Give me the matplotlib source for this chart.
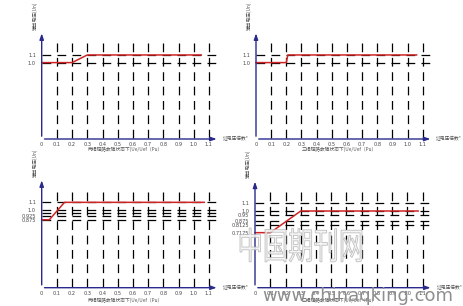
import matplotlib
matplotlib.use('Agg')
import matplotlib.pyplot as plt
from matplotlib.textpath import TextPath
from matplotlib.patches import PathPatch
from matplotlib.font_manager import FontProperties
from matplotlib.transforms import Affine2D, IdentityTransform

plt.rcParams['font.family'] = ['Noto Sans CJK SC', 'DejaVu Sans']

# x axis ticks shared by all four panels
x_ticks = [0, 0.1, 0.2, 0.3, 0.4, 0.5, 0.6, 0.7, 0.8, 0.9, 1.0, 1.1]
x_labels = ['0', '0.1', '0.2', '0.3', '0.4', '0.5', '0.6', '0.7', '0.8', '0.9', '1.0', '1.1']

# panel a (top left)
a_x = [0, 0.2, 0.3, 1.05]
a_y = [1.0, 1.0, 1.1, 1.1]
a_hlines = [1.1, 1.0]
a_yticks = [1.1, 1.0]
a_ylabels = ['1.1', '1.0']

# panel b (top right)
b_x = [0, 0.2, 0.21, 1.06]
b_y = [1.0, 1.0, 1.1, 1.1]
b_hlines = [1.1, 1.0]
b_yticks = [1.1, 1.0]
b_ylabels = ['1.1', '1.0']

# panel c (bottom left)
c_x = [0, 0.05, 0.15, 1.07]
c_y = [0.875, 0.875, 1.1, 1.1]
c_hlines = [1.1, 1.0, 0.9625, 0.925, 0.875]
c_yticks = [1.1, 1.0, 0.925, 0.875]
c_ylabels = ['1.1', '1.0', '0.925', '0.875']

# panel d (bottom right)
d_x = [0, 0.1, 0.3, 1.07]
d_y = [0.7175, 0.7175, 1.0, 1.0]
d_hlines = [1.1, 1.0, 0.95, 0.875, 0.8125]
d_yticks = [1.1, 1.0, 0.95, 0.875, 0.8125, 0.7175]
d_ylabels = ['1.1', '1.0', '0.95', '0.875', '0.8125', '0.7175']

ylab = '输出电压(Un)'
xlab = '过电压倍数*'
cap2 = '两相短路故障状态下(Ue/Uef（Pu）'
cap3 = '三相短路故障状态下(Ue/Uef（Pu）'

W, H = 463, 306
AXC = '#2a2a8c'
RED = '#d02424'


def panel(fig, ox, oy, sx, sy, xs, ys, hl, yt, yl, cap, cap_y):
	'''ox,oy: origin pixel (from top-left), sx,sy: pixels per unit'''
	x0, x1 = -0.02, 1.25
	y0, y1 = -0.02, 1.45
	left = (ox + x0 * sx) / W
	bottom = (H - oy + y0 * sy) / H
	ax = fig.add_axes([left, bottom, (x1 - x0) * sx / W, (y1 - y0) * sy / H])
	ax.set_xlim(x0, x1)
	ax.set_ylim(y0, y1)
	for s in ax.spines.values():
		s.set_visible(False)
	ax.patch.set_alpha(0)
	# dashed guide lines
	for xv in x_ticks[1:]:
		ax.plot([xv, xv], [0.01, 1.3], color='black', lw=0.9, dashes=(7, 4.5))
	for yv in hl:
		ax.plot([0, 1.15], [yv, yv], color='black', lw=0.9, dashes=(7, 5))
	ax.plot(xs, ys, color=RED, lw=1.1, zorder=5)
	# axes with arrows
	ax.annotate('', xy=(1.17, 0), xytext=(0, 0),
		arrowprops=dict(arrowstyle='-|>,head_length=0.35,head_width=0.12', color=AXC, lw=1.0), zorder=6)
	ax.annotate('', xy=(0, 1.42), xytext=(0, 0),
		arrowprops=dict(arrowstyle='-|>,head_length=0.35,head_width=0.12', color=AXC, lw=1.0), zorder=6)
	ax.set_xticks(x_ticks)
	ax.set_xticklabels(x_labels, fontsize=3.6, color='#444444', family='DejaVu Sans')
	ax.set_yticks(yt)
	ax.set_yticklabels(yl, fontsize=3.6, color='#444444', family='DejaVu Sans')
	ax.tick_params(axis='x', length=0, pad=1.2)
	ax.tick_params(axis='y', length=0, pad=2)
	ax.text(-0.045, 1.43, ylab, rotation=90, ha='center', va='bottom', fontsize=3.4, color='#555555', clip_on=False)
	ax.text(1.19, 0, xlab, ha='left', va='center', fontsize=3.4, color='#555555', clip_on=False)
	ax.text(0.55, cap_y, cap, ha='center', va='center', fontsize=3.4, color='#555555', clip_on=False)
	return ax


def watermark(fig, text, box):
	'''draw text stretched into a pixel box (x0, y0_top, x1, y1_top)'''
	tp = TextPath((0, 0), text, size=20, prop=FontProperties(family='Noto Sans CJK SC', weight='light'))
	ext = tp.get_extents()
	bx0, by0, bx1, by1 = box
	sx = (bx1 - bx0) / ext.width
	sy = (by1 - by0) / ext.height
	tr = Affine2D().translate(-ext.x0, -ext.y0).scale(sx, sy).translate(bx0, H - by1)
	patch = PathPatch(tr.transform_path(tp), facecolor='#f4f4f4', edgecolor='#b4b4b4', lw=0.6,
		transform=IdentityTransform(), alpha=0.85)
	fig.add_artist(patch)


def main():
	fig = plt.figure(figsize=(4.63, 3.06), dpi=100)
	fig.patch.set_facecolor('white')
	panel(fig, 41.7, 139, 152, 76.4, a_x, a_y, a_hlines, a_yticks, a_ylabels, cap2, -0.135)
	panel(fig, 256, 139, 151.5, 76.4, b_x, b_y, b_hlines, b_yticks, b_ylabels, cap3, -0.135)
	panel(fig, 41.7, 287.7, 152, 77.6, c_x, c_y, c_hlines, c_yticks, c_ylabels, cap2, -0.165)
	panel(fig, 255, 287.7, 152.5, 76.7, d_x, d_y, d_hlines, d_yticks, d_ylabels, cap3, -0.165)
	# site watermark
	watermark(fig, '中国期刊网', (240, 228, 362, 262))
	fig.text(262 / W, 1 - 296 / H, 'www.chinaqking.com', fontsize=13, color='#8e8e8e',
		ha='left', va='center', family='DejaVu Sans')
	fig.savefig('out.png', dpi=100, facecolor='white')
	plt.close()


if __name__ == '__main__':
	main()
